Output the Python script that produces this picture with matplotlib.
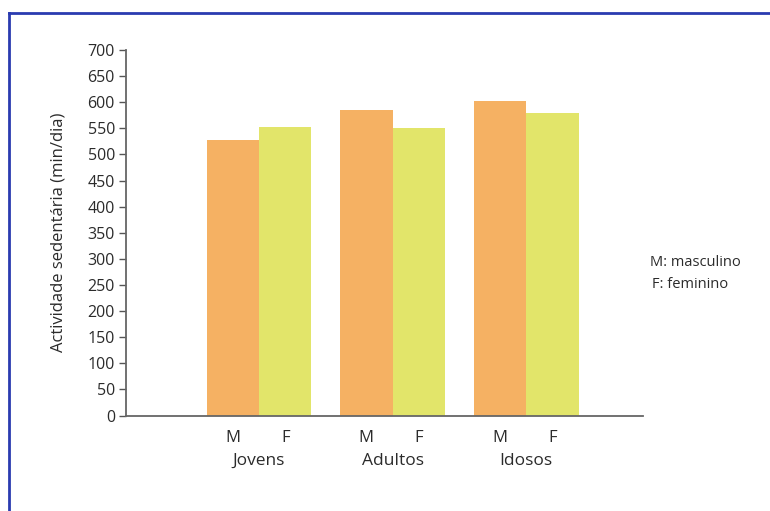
import matplotlib
matplotlib.use("Agg")
import matplotlib.pyplot as plt
from matplotlib.lines import Line2D
import numpy as np

plt.rcParams["font.family"] = ["Open Sans", "DejaVu Sans"]

# sedentary activity, minutes per day
groups = ["Jovens", "Adultos", "Idosos"]
masculino = [527, 585, 602]
feminino = [553, 550, 579]
sex_labels = ["M", "F"]

c_m = "#F5B163"
c_f = "#E2E56A"
txt = "#2b2b2b"

fig = plt.figure(figsize=(7.7, 5.11), dpi=100)
ax = fig.add_axes([126 / 770, 1 - 415.5 / 511, (643 - 126) / 770, (415.5 - 50) / 511])

x = np.arange(len(groups))
w = 0.393
ax.bar(x - w / 2, masculino, width=w, color=c_m)
ax.bar(x + w / 2, feminino, width=w, color=c_f)

ax.set_xlim(-0.996, 2.876)
ax.set_ylim(0, 700)
ax.set_yticks(np.arange(0, 701, 50))
ax.tick_params(axis="y", direction="out", length=5, width=1, color="#555555",
               labelsize=11.5, labelcolor=txt, pad=3)
ax.set_xticks([])

for s in ["top", "right"]:
    ax.spines[s].set_visible(False)
for s in ["left", "bottom"]:
    ax.spines[s].set_color("#666666")
    ax.spines[s].set_linewidth(1.3)

ax.set_ylabel("Actividade sedentária (min/dia)", fontsize=12, color=txt, labelpad=15)

# M / F under each bar, group name under each pair
for i, g in enumerate(groups):
    for off, lab in zip([-w / 2, w / 2], sex_labels):
        ax.annotate(lab, (i + off, 0), xytext=(0, -16.5), textcoords="offset points",
                    ha="center", va="center", fontsize=12, color=txt,
                    annotation_clip=False)
    ax.annotate(g, (i, 0), xytext=(0, -33), textcoords="offset points",
                ha="center", va="center", fontsize=12.5, color=txt,
                annotation_clip=False)

fig.text(650 / 770, 1 - 262 / 511, "M: masculino", fontsize=10.5, color=txt,
         ha="left", va="center")
fig.text(652 / 770, 1 - 284 / 511, "F: feminino", fontsize=10.5, color=txt,
         ha="left", va="center")

# blue frame (left and top edges)
frame = "#2a3bb0"
fig.add_artist(Line2D([8.5 / 770, 8.5 / 770], [0, 1 - 13 / 511], color=frame, lw=2))
fig.add_artist(Line2D([8.5 / 770, 1], [1 - 13 / 511, 1 - 13 / 511], color=frame, lw=2))

fig.savefig("out.png", dpi=100)
